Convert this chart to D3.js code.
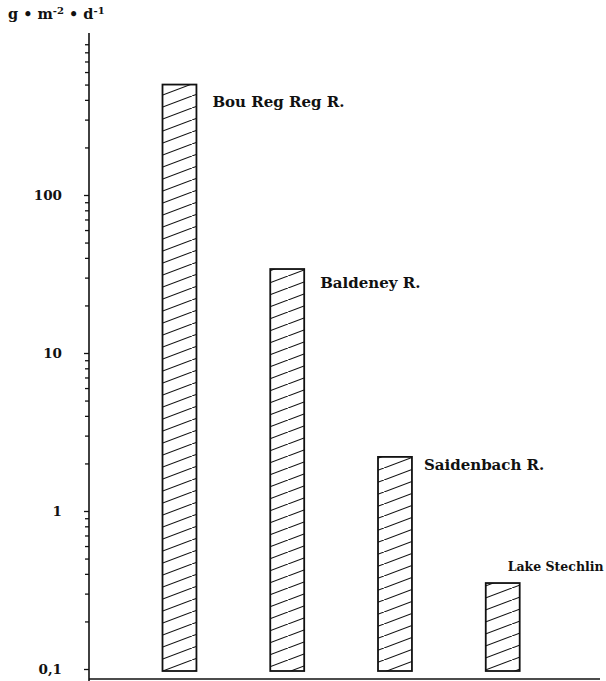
<!DOCTYPE html>
<html>
<head>
<meta charset="utf-8">
<script src="https://cdn.jsdelivr.net/npm/d3@7"></script>
<style>
  html, body { margin: 0; padding: 0; background: #fff; }
  svg { display: block; }
  text { font-family: "DejaVu Serif", "Liberation Serif", serif; fill: #111; }
</style>
</head>
<body>
<script>
// Daily production by water body, log scale
const categories = ["Bou Reg Reg R.", "Baldeney R.", "Saidenbach R.", "Lake Stechlin"];
const values = [500, 34, 2.2, 0.35];
const tickValues = [0.1, 1, 10, 100];
const tickLabels = ["0,1", "1", "10", "100"];

const W = 606, H = 681;
const axisX = 89, baseY = 679;

// label placement relative to each bar's top-right corner, with font size
const labelLayout = [[16, 22, 15], [16, 19, 15], [12, 13, 15], [-12, -12, 12.5]];

const svg = d3.select("body").append("svg")
  .attr("width", W).attr("height", H);

// diagonal hatch fill
const defs = svg.append("defs");
const pat = defs.append("pattern")
  .attr("id", "hatch")
  .attr("patternUnits", "userSpaceOnUse")
  .attr("width", 32).attr("height", 12);
pat.append("line")
  .attr("x1", -2).attr("y1", 12.75).attr("x2", 34).attr("y2", -0.75)
  .attr("stroke", "#111").attr("stroke-width", 1.1);

const y = d3.scaleLog().domain([0.1, 1000]).range([669, 37]);
const x = d3.scaleBand().domain(categories)
  .range([125.6, 556.6]).paddingInner(0.685).paddingOuter(0.3425);

// bars
svg.append("g").selectAll("rect")
  .data(values)
  .join("rect")
  .attr("x", (d, i) => x(categories[i]))
  .attr("y", d => y(d))
  .attr("width", x.bandwidth())
  .attr("height", d => y(0.1) + 2 - y(d))
  .attr("fill", "url(#hatch)")
  .attr("stroke", "#111")
  .attr("stroke-width", 1.8);

// bar labels
svg.append("g").selectAll("text")
  .data(values)
  .join("text")
  .attr("x", (d, i) => x(categories[i]) + x.bandwidth() + labelLayout[i][0])
  .attr("y", (d, i) => y(d) + labelLayout[i][1])
  .attr("font-size", (d, i) => labelLayout[i][2])
  .attr("font-weight", "bold")
  .text((d, i) => categories[i]);

// y axis with major and minor log ticks
const minor = [];
for (let e = -1; e < 3; e++) {
  for (let k = 2; k <= 9; k++) minor.push(k * Math.pow(10, e));
}
const yAxisG = svg.append("g").attr("transform", `translate(${axisX},0)`);
yAxisG.append("g")
  .call(d3.axisLeft(y).tickValues(minor).tickSize(4).tickFormat(""))
  .call(g => g.select(".domain").remove())
  .selectAll("line").attr("stroke", "#111").attr("stroke-width", 1.3);
yAxisG.append("g")
  .call(d3.axisLeft(y).tickValues(tickValues).tickSize(5).tickPadding(22)
    .tickFormat((d, i) => tickLabels[i]))
  .call(g => g.select(".domain").remove())
  .call(g => g.selectAll("line").attr("stroke", "#111").attr("stroke-width", 1.3))
  .call(g => g.selectAll("text")
    .attr("font-family", "DejaVu Serif, serif")
    .attr("font-size", 13.5)
    .attr("font-weight", "bold")
    .attr("fill", "#111"));
yAxisG.append("line")
  .attr("x1", 0).attr("x2", 0)
  .attr("y1", 33).attr("y2", H)
  .attr("stroke", "#111").attr("stroke-width", 1.6);

// x axis baseline
svg.append("line")
  .attr("x1", axisX).attr("x2", 600)
  .attr("y1", baseY).attr("y2", baseY)
  .attr("stroke", "#111").attr("stroke-width", 1.6);

// unit label
const unit = svg.append("text")
  .attr("x", 8).attr("y", 19)
  .attr("font-size", 14.5)
  .attr("font-weight", "bold");
unit.append("tspan").text("g • m");
unit.append("tspan").attr("font-size", 10).attr("dy", -5).text("-2");
unit.append("tspan").attr("dy", 5).text(" • d");
unit.append("tspan").attr("font-size", 10).attr("dy", -5).text("-1");
</script>
</body>
</html>
